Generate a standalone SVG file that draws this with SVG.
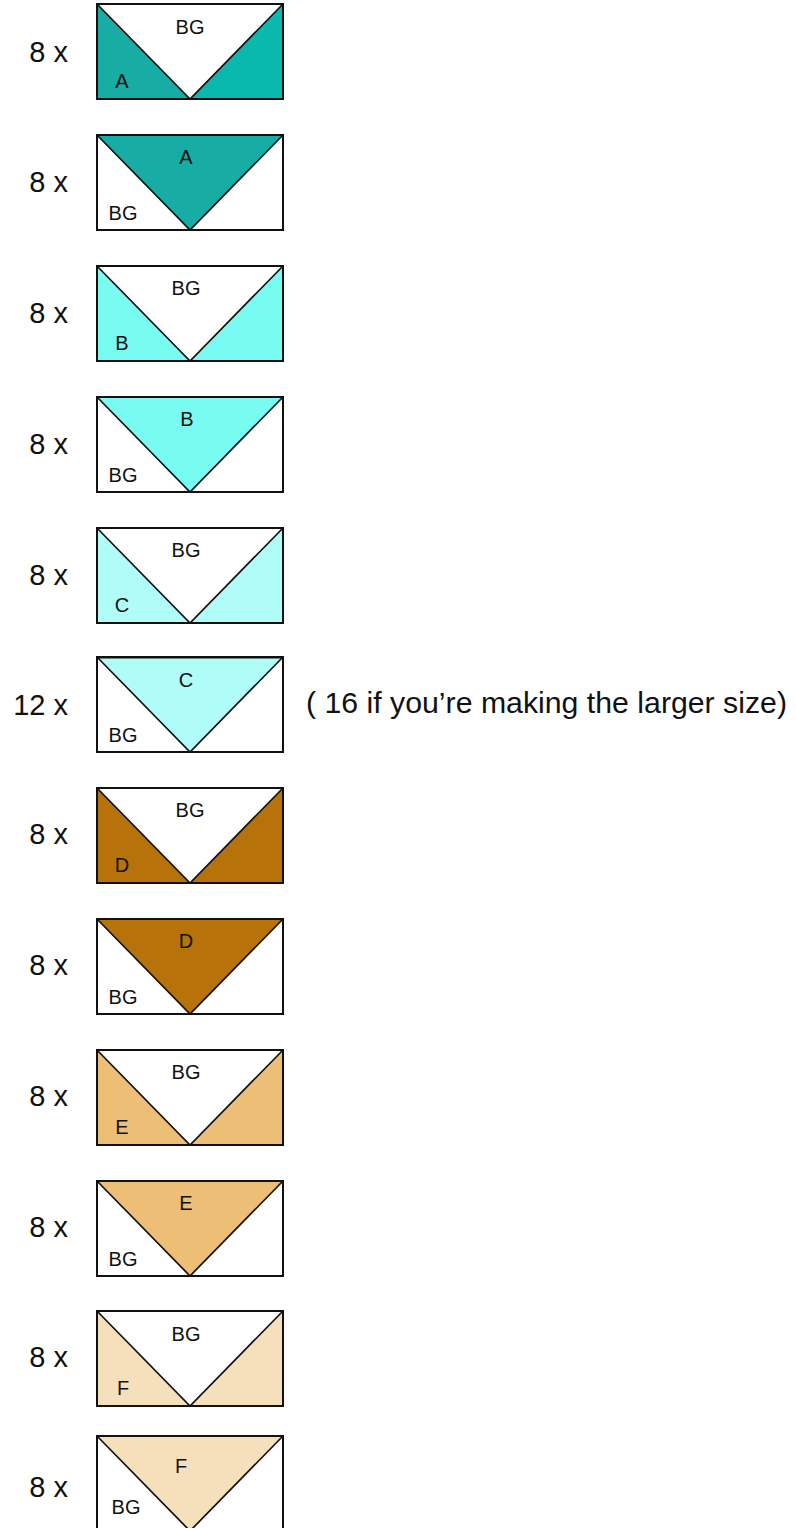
<svg xmlns="http://www.w3.org/2000/svg" width="796" height="1528" viewBox="0 0 796 1528">
<style>
.cnt{font-family:"Liberation Sans",Arial,sans-serif;font-size:29px;fill:#111;text-anchor:end}
.lbl{font-family:"Liberation Sans",Arial,sans-serif;font-size:20px;fill:#111;text-anchor:middle}
.note{font-family:"Liberation Sans",Arial,sans-serif;font-size:30px;fill:#111}
.frame{fill:#fff;stroke:none}
.border{fill:none;stroke:#111;stroke-width:2}
.diag{fill:none;stroke:#111;stroke-width:1.7}
.a1{fill:#17aca4}.a2{fill:#09b9ae}
.b{fill:#78fcf2}.c{fill:#b0fcf6}.d{fill:#b7720a}.e{fill:#edbe75}.f{fill:#f6dfbb}
</style>
<defs>
<rect id="bg" class="frame" x="97" y="0" width="186" height="95"/>
<polyline id="vl" class="diag" points="97,0 190,95 283,0"/>
<rect id="bd" class="border" x="97" y="0" width="186" height="95"/>
</defs>
<rect x="0" y="0" width="796" height="1528" fill="#fff"/>

<g id="block-1" transform="translate(0,4)">
<use href="#bg"/>
<polygon class="a1" points="97,0 97,95 190,95"/>
<polygon class="a2" points="283,0 283,95 190,95"/>
<use href="#vl"/><use href="#bd"/>
<text class="lbl" x="190" y="30">BG</text>
<text class="lbl" x="122" y="84">A</text>
<text class="cnt" x="68" y="58">8 x</text>
</g>

<g id="block-2" transform="translate(0,135)">
<use href="#bg"/>
<polygon class="a1" points="97,0 283,0 190,95"/>
<use href="#vl"/><use href="#bd"/>
<text class="lbl" x="186" y="29">A</text>
<text class="lbl" x="123" y="85">BG</text>
<text class="cnt" x="68" y="57">8 x</text>
</g>

<g id="block-3" transform="translate(0,266)">
<use href="#bg"/>
<polygon class="b" points="97,0 97,95 190,95"/>
<polygon class="b" points="283,0 283,95 190,95"/>
<use href="#vl"/><use href="#bd"/>
<text class="lbl" x="186" y="29">BG</text>
<text class="lbl" x="122" y="84">B</text>
<text class="cnt" x="68" y="57">8 x</text>
</g>

<g id="block-4" transform="translate(0,397)">
<use href="#bg"/>
<polygon class="b" points="97,0 283,0 190,95"/>
<use href="#vl"/><use href="#bd"/>
<text class="lbl" x="187" y="29">B</text>
<text class="lbl" x="123" y="85">BG</text>
<text class="cnt" x="68" y="57">8 x</text>
</g>

<g id="block-5" transform="translate(0,528)">
<use href="#bg"/>
<polygon class="c" points="97,0 97,95 190,95"/>
<polygon class="c" points="283,0 283,95 190,95"/>
<use href="#vl"/><use href="#bd"/>
<text class="lbl" x="186" y="29">BG</text>
<text class="lbl" x="122" y="84">C</text>
<text class="cnt" x="68" y="57">8 x</text>
</g>

<g id="block-6" transform="translate(0,657)">
<use href="#bg"/>
<polygon class="c" points="97,0 283,0 190,95"/>
<use href="#vl"/><use href="#bd"/>
<line x1="97" y1="0.5" x2="283" y2="0.5" stroke="#111" stroke-width="2"/>
<text class="lbl" x="186" y="30">C</text>
<text class="lbl" x="123" y="85">BG</text>
<text class="cnt" x="68" y="58">12 x</text>
<text class="note" x="306" y="56" textLength="481" lengthAdjust="spacingAndGlyphs">( 16 if you’re making the larger size)</text>
</g>

<g id="block-7" transform="translate(0,788)">
<use href="#bg"/>
<polygon class="d" points="97,0 97,95 190,95"/>
<polygon class="d" points="283,0 283,95 190,95"/>
<use href="#vl"/><use href="#bd"/>
<text class="lbl" x="190" y="29">BG</text>
<text class="lbl" x="122" y="84">D</text>
<text class="cnt" x="68" y="56">8 x</text>
</g>

<g id="block-8" transform="translate(0,919)">
<use href="#bg"/>
<polygon class="d" points="97,0 283,0 190,95"/>
<use href="#vl"/><use href="#bd"/>
<text class="lbl" x="186" y="29">D</text>
<text class="lbl" x="123" y="85">BG</text>
<text class="cnt" x="68" y="56">8 x</text>
</g>

<g id="block-9" transform="translate(0,1050)">
<use href="#bg"/>
<polygon class="e" points="97,0 97,95 190,95"/>
<polygon class="e" points="283,0 283,95 190,95"/>
<use href="#vl"/><use href="#bd"/>
<text class="lbl" x="186" y="29">BG</text>
<text class="lbl" x="122" y="84">E</text>
<text class="cnt" x="68" y="56">8 x</text>
</g>

<g id="block-10" transform="translate(0,1181)">
<use href="#bg"/>
<polygon class="e" points="97,0 283,0 190,95"/>
<use href="#vl"/><use href="#bd"/>
<text class="lbl" x="186" y="29">E</text>
<text class="lbl" x="123" y="85">BG</text>
<text class="cnt" x="68" y="56">8 x</text>
</g>

<g id="block-11" transform="translate(0,1311)">
<use href="#bg"/>
<polygon class="f" points="97,0 97,95 190,95"/>
<polygon class="f" points="283,0 283,95 190,95"/>
<use href="#vl"/><use href="#bd"/>
<text class="lbl" x="186" y="30">BG</text>
<text class="lbl" x="123" y="84">F</text>
<text class="cnt" x="68" y="56">8 x</text>
</g>

<g id="block-12" transform="translate(0,1436)">
<use href="#bg"/>
<polygon class="f" points="97,0 283,0 190,95"/>
<use href="#vl"/><use href="#bd"/>
<text class="lbl" x="181" y="37">F</text>
<text class="lbl" x="126" y="78">BG</text>
<text class="cnt" x="68" y="61">8 x</text>
</g>
</svg>
